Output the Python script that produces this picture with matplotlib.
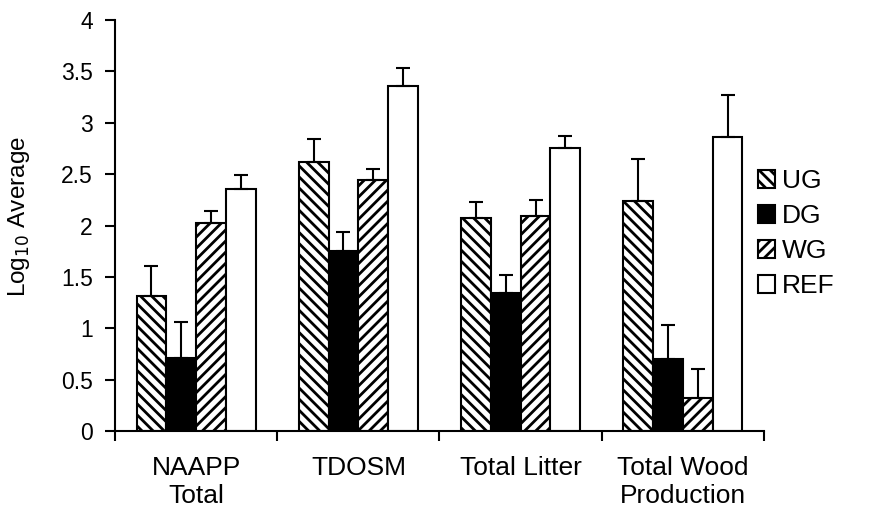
import numpy as np
import matplotlib
matplotlib.use("Agg")
import matplotlib.pyplot as plt
from matplotlib.patches import Patch

plt.rcParams['font.family'] = ['Liberation Sans', 'DejaVu Sans']
plt.rcParams['hatch.linewidth'] = 2.0

# ---------------- data ----------------
categories = ["NAAPP\nTotal", "TDOSM", "Total Litter", "Total Wood\nProduction"]
groups = ["UG", "DG", "WG", "REF"]
means = {
    "UG": [1.31, 2.62, 2.07, 2.24],
    "DG": [0.71, 1.75, 1.34, 0.70],
    "WG": [2.02, 2.44, 2.09, 0.32],
    "REF": [2.36, 3.36, 2.75, 2.86],
}
errors = {
    "UG": [0.30, 0.22, 0.16, 0.41],
    "DG": [0.35, 0.19, 0.18, 0.33],
    "WG": [0.12, 0.11, 0.16, 0.28],
    "REF": [0.13, 0.17, 0.12, 0.41],
}

styles = {
    "UG": dict(facecolor="white", hatch="\\\\\\"),
    "DG": dict(facecolor="black", hatch=None),
    "WG": dict(facecolor="white", hatch="///"),
    "REF": dict(facecolor="white", hatch=None),
}

fig = plt.figure(figsize=(8.72, 5.14), dpi=100)
ax = fig.add_axes([0.132, 0.1615, 0.744, 0.7995])

x = np.arange(len(categories))
width = 0.184
for i, g in enumerate(groups):
    pos = x + (i - 1.5) * width
    ax.bar(pos, means[g], width, edgecolor="black", linewidth=1.5, **styles[g],
           zorder=2)
    ax.errorbar(pos, means[g], yerr=[np.zeros(len(x)), errors[g]], fmt="none",
                ecolor="black", elinewidth=1.5, capsize=5, capthick=1.5, zorder=3)

ax.set_xlim(-0.5, len(categories) - 0.5)
ax.set_ylim(0, 4)
ax.set_yticks(np.arange(0, 4.01, 0.5))
ax.set_yticklabels(["0", "0.5", "1", "1.5", "2", "2.5", "3", "3.5", "4"])

# boundary ticks with labels centered between them
ax.set_xticks(np.arange(-0.5, len(categories), 1.0))
ax.set_xticklabels([])
ax.set_xticks(x, minor=True)
ax.set_xticklabels(categories, minor=True, fontsize=19, linespacing=1.2)
ax.tick_params(axis="x", which="minor", length=0, pad=18)
ax.tick_params(axis="x", which="major", length=7, width=1.5, direction="out")
ax.tick_params(axis="y", length=7, width=1.5, direction="out", labelsize=16.5, pad=9)

for s in ["top", "right"]:
    ax.spines[s].set_visible(False)
for s in ["left", "bottom"]:
    ax.spines[s].set_linewidth(1.5)

ax.set_ylabel("Log$_{10}$ Average", fontsize=17.5)
ax.yaxis.set_label_coords(-0.128, 0.523)

handles = [Patch(edgecolor="black", linewidth=1.5, label=g, **styles[g]) for g in groups]
fig.legend(handles=handles, loc="upper left", bbox_to_anchor=(0.869, 0.671),
           frameon=False, fontsize=19, handlelength=0.65, handleheight=0.65,
           handletextpad=0.25, labelspacing=0.42, borderpad=0, borderaxespad=0)

fig.savefig("out.png", dpi=100)
